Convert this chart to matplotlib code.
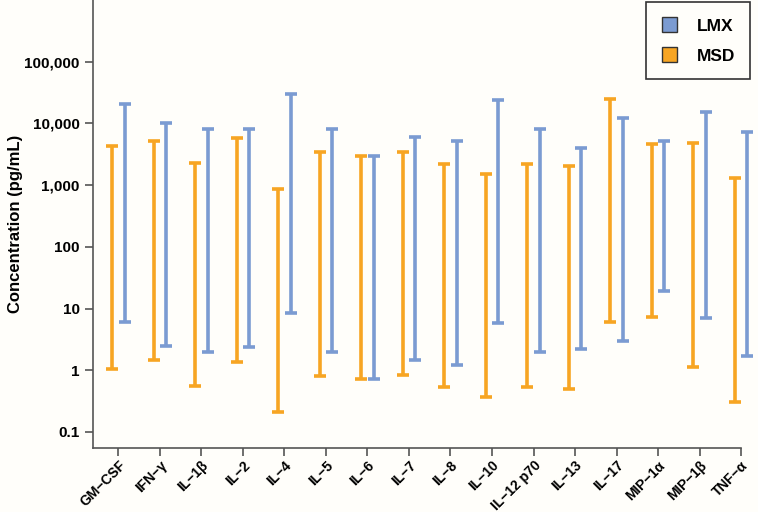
import numpy as np
import matplotlib
matplotlib.use("Agg")
import matplotlib.pyplot as plt
from matplotlib.patches import Patch

plt.rcParams['font.family'] = ['Liberation Sans', 'DejaVu Sans']

cytokines = ["GM\u2212CSF", "IFN\u2212\u03b3", "IL\u22121\u03b2", "IL\u22122", "IL\u22124", "IL\u22125",
             "IL\u22126", "IL\u22127", "IL\u22128", "IL\u221210", "IL\u221212 p70", "IL\u221213",
             "IL\u221217", "MIP\u22121\u03b1", "MIP\u22121\u03b2", "TNF\u2212\u03b1"]

# range of detection per platform (pg/mL)
lmx_low = [6.0, 2.45, 1.96, 2.4, 8.4, 1.96, 0.73, 1.47, 1.22, 5.9, 1.96, 2.19, 2.95, 19, 7.1, 1.7]
lmx_high = [20400, 10000, 8200, 8200, 30000, 8000, 3000, 6100, 5100, 24000, 8100, 4060, 12300, 5100, 15300, 7200]
msd_low = [1.05, 1.44, 0.56, 1.36, 0.21, 0.81, 0.73, 0.83, 0.54, 0.37, 0.54, 0.49, 6.1, 7.3, 1.15, 0.31]
msd_high = [4370, 5200, 2300, 5700, 880, 3400, 3000, 3400, 2240, 1520, 2200, 2050, 25300, 4600, 4800, 1300]

blue = "#7b9bd2"
orange = "#f7a523"
bg = "#fffefa"

fig = plt.figure(figsize=(7.58, 5.12), dpi=100, facecolor=bg)
ax = fig.add_axes([0.1227, 0.125, 0.855, 0.875], facecolor=bg)

x = np.arange(len(cytokines))
off = 0.15

for xs, lo, hi, col in [(x - off, msd_low, msd_high, orange), (x + off, lmx_low, lmx_high, blue)]:
    lo = np.array(lo)
    hi = np.array(hi)
    eb = ax.errorbar(xs, lo, yerr=[np.zeros_like(lo), hi - lo], fmt='none', ecolor=col,
                     elinewidth=2.6, capsize=4, capthick=2.6)
    for art in eb.lines[1] + eb.lines[2]:
        art.set_clip_on(False)

ax.set_yscale('log')
ax.set_ylim(0.055, 1e6)
ax.set_xlim(-0.61, 15)
ax.set_yticks([0.1, 1, 10, 100, 1000, 10000, 100000])
ax.set_yticklabels(["0.1", "1", "10", "100", "1,000", "10,000", "100,000"], fontweight='bold', fontsize=11)
ax.yaxis.set_minor_locator(matplotlib.ticker.NullLocator())
ax.set_xticks(x)
ax.set_xticklabels(cytokines, rotation=45, ha='right', rotation_mode='anchor', fontweight='bold', fontsize=10)
ax.set_ylabel("Concentration (pg/mL)", fontweight='bold', fontsize=12, labelpad=1)

for s in ['top', 'right']:
    ax.spines[s].set_visible(False)
for s in ['left', 'bottom']:
    ax.spines[s].set_color('#555555')
    ax.spines[s].set_linewidth(1.2)
ax.tick_params(axis='both', colors='#555555', length=6, width=1.2, labelcolor='black')
ax.tick_params(axis='x', pad=1.5)

handles = [Patch(facecolor=blue, edgecolor='#333333', label='LMX'),
           Patch(facecolor=orange, edgecolor='#333333', label='MSD')]
leg = ax.legend(handles=handles, loc='upper right', bbox_to_anchor=(1.017, 1.0), borderaxespad=0.1,
                fancybox=False, edgecolor='#333333', framealpha=1, facecolor=bg,
                prop={'weight': 'bold', 'size': 12.5},
                handlelength=0.9, handleheight=0.9, borderpad=0.9, labelspacing=0.8, handletextpad=1.1)
leg.get_frame().set_linewidth(1.2)

fig.savefig("out.png", dpi=100, facecolor=bg)
